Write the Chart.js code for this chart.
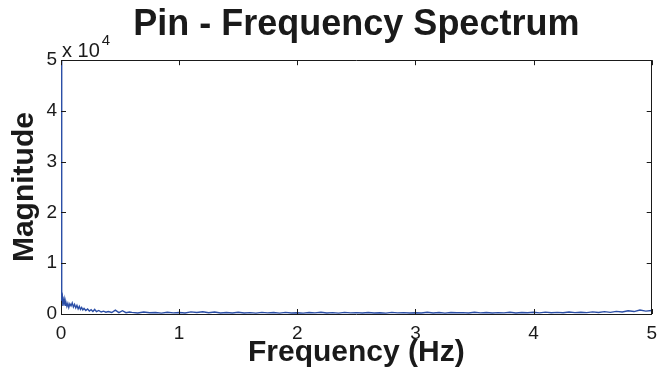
<!DOCTYPE html>
<html>
<head>
<meta charset="utf-8">
<script src="https://cdn.jsdelivr.net/npm/chart.js@4.4.1/dist/chart.umd.min.js"></script>
<style>
  html, body { margin: 0; padding: 0; background: #ffffff; }
  #wrap { width: 665px; height: 373px; }
</style>
</head>
<body>
<div id="wrap"><canvas id="c" width="665" height="373"></canvas></div>
<script>
// ---- Data ----
const chartTitle = "Pin - Frequency Spectrum";
const xAxisTitle = "Frequency (Hz)";
const yAxisTitle = "Magnitude";
const xTickValues = [0, 1, 2, 3, 4, 5];
const yTickValues = [0, 10000, 20000, 30000, 40000, 50000];
const yExponentBase = "x 10";
const yExponentPower = "4";

const freqHz = [
  0.000, 0.004, 0.008, 0.012, 0.016, 0.020, 0.024, 0.028, 0.035, 0.042,
  0.050, 0.058, 0.066, 0.075, 0.085, 0.095, 0.105, 0.115, 0.125, 0.135,
  0.145, 0.155, 0.165, 0.175, 0.185, 0.195, 0.210, 0.225, 0.240, 0.255,
  0.270, 0.285, 0.300, 0.320, 0.340, 0.360, 0.380, 0.400, 0.430, 0.460,
  0.490, 0.520, 0.550, 0.580,
  0.60, 0.65, 0.70, 0.75, 0.80, 0.85, 0.90, 0.95, 1.00, 1.05,
  1.10, 1.15, 1.20, 1.25, 1.30, 1.35, 1.40, 1.45, 1.50, 1.55,
  1.60, 1.65, 1.70, 1.75, 1.80, 1.85, 1.90, 1.95, 2.00, 2.05,
  2.10, 2.15, 2.20, 2.25, 2.30, 2.35, 2.40, 2.45, 2.50, 2.55,
  2.60, 2.65, 2.70, 2.75, 2.80, 2.85, 2.90, 2.95, 3.00, 3.05,
  3.10, 3.15, 3.20, 3.25, 3.30, 3.35, 3.40, 3.45, 3.50, 3.55,
  3.60, 3.65, 3.70, 3.75, 3.80, 3.85, 3.90, 3.95, 4.00, 4.05,
  4.10, 4.15, 4.20, 4.25, 4.30, 4.35, 4.40, 4.45, 4.50, 4.55,
  4.60, 4.65, 4.70, 4.75, 4.80, 4.85, 4.90, 4.95, 5.00
];
const magnitude = [
  60000, 4700, 2600, 3300, 1600, 2500, 1900, 2800, 1700, 2300,
  1500, 2100, 1300, 2000, 1600, 2200, 1400, 1900, 1200, 1700,
  1000, 1500, 900, 1300, 800, 1100, 700, 1000, 600, 850,
  500, 900, 450, 700, 400, 550, 350, 500, 300, 750,
  280, 650, 250, 380,
  320, 210, 380, 250, 300, 180, 340, 220, 290, 200,
  420, 310, 450, 260, 380, 200, 300, 190, 330, 210,
  270, 180, 310, 230, 290, 170, 320, 210, 260, 180,
  300, 220, 340, 200, 280, 170, 310, 230, 270, 190,
  300, 210, 250, 180, 320, 220, 280, 200, 260, 190,
  330, 210, 290, 180, 300, 240, 270, 200, 340, 220,
  300, 190, 280, 230, 350, 210, 300, 250, 330, 220,
  370, 260, 320, 240, 390, 270, 350, 280, 420, 300,
  460, 330, 520, 400, 650, 480, 780, 560, 700
];

const FONT = "'Liberation Sans', Arial, Helvetica, sans-serif";
const INK = '#1a1a1a';

const matlabBox = {
  id: 'matlabBox',
  afterDraw(chart) {
    const { ctx, chartArea: a, scales } = chart;
    const xs = scales.x, ys = scales.y;
    ctx.save();
    ctx.strokeStyle = INK;
    ctx.lineWidth = 1;
    // top and right border
    ctx.beginPath();
    ctx.moveTo(a.left, Math.round(a.top) + 0.5);
    ctx.lineTo(a.right, Math.round(a.top) + 0.5);
    ctx.moveTo(Math.round(a.right) - 0.5, a.top);
    ctx.lineTo(Math.round(a.right) - 0.5, a.bottom);
    ctx.stroke();
    // inward tick marks
    const L = 5;
    ctx.beginPath();
    xTickValues.forEach(v => {
      const px = Math.round(xs.getPixelForValue(v)) + 0.5;
      ctx.moveTo(px, a.bottom); ctx.lineTo(px, a.bottom - L);
      ctx.moveTo(px, a.top); ctx.lineTo(px, a.top + L);
    });
    yTickValues.forEach(v => {
      const py = Math.round(ys.getPixelForValue(v)) + 0.5;
      ctx.moveTo(a.left, py); ctx.lineTo(a.left + L, py);
      ctx.moveTo(a.right, py); ctx.lineTo(a.right - L, py);
    });
    ctx.stroke();
    // exponent label
    ctx.fillStyle = INK;
    ctx.textBaseline = 'alphabetic';
    ctx.textAlign = 'left';
    ctx.font = `20px ${FONT}`;
    ctx.fillText(yExponentBase, a.left + 1, a.top - 3);
    const w = ctx.measureText(yExponentBase).width;
    ctx.font = `15px ${FONT}`;
    ctx.fillText(yExponentPower, a.left + 1 + w + 2, a.top - 15);
    ctx.restore();
  }
};

new Chart(document.getElementById('c'), {
  type: 'line',
  data: {
    datasets: [{
      data: freqHz.map((f, i) => ({ x: f, y: magnitude[i] })),
      borderColor: '#2b4ea6',
      borderWidth: 1.4,
      pointRadius: 0,
      tension: 0,
      fill: false
    }]
  },
  options: {
    responsive: false,
    devicePixelRatio: 1,
    animation: false,
    layout: { padding: { left: 0, right: 9, top: 0, bottom: 0 } },
    plugins: {
      legend: { display: false },
      tooltip: { enabled: false },
      title: {
        display: true,
        text: chartTitle,
        fullSize: false,
        color: INK,
        font: { family: FONT, size: 36, weight: 'bold' },
        padding: { top: 3, bottom: 14 }
      }
    },
    scales: {
      x: {
        type: 'linear',
        min: 0, max: 5,
        afterFit(s) { s.height = 59; },
        afterBuildTicks(s) { s.ticks = xTickValues.map(v => ({ value: v })); },
        grid: { display: true, drawOnChartArea: false, drawTicks: false },
        border: { display: true, color: INK, width: 1 },
        ticks: {
          color: INK, padding: 8, maxRotation: 0,
          font: { family: FONT, size: 19 },
          callback: v => String(v)
        },
        title: {
          display: true, text: xAxisTitle, color: INK,
          font: { family: FONT, size: 30, weight: 'bold' },
          padding: { top: 0, bottom: 2 }
        }
      },
      y: {
        type: 'linear',
        min: 0, max: 50000,
        afterFit(s) { s.width = 61; },
        afterBuildTicks(s) { s.ticks = yTickValues.map(v => ({ value: v })); },
        grid: { display: true, drawOnChartArea: false, drawTicks: false },
        border: { display: true, color: INK, width: 1 },
        ticks: {
          color: INK, padding: 4,
          font: { family: FONT, size: 19 },
          callback: v => String(v / 10000)
        },
        title: {
          display: true, text: yAxisTitle, color: INK,
          font: { family: FONT, size: 30, weight: 'bold' },
          padding: { top: 7, bottom: 0 }
        }
      }
    }
  },
  plugins: [matlabBox]
});
</script>
</body>
</html>
